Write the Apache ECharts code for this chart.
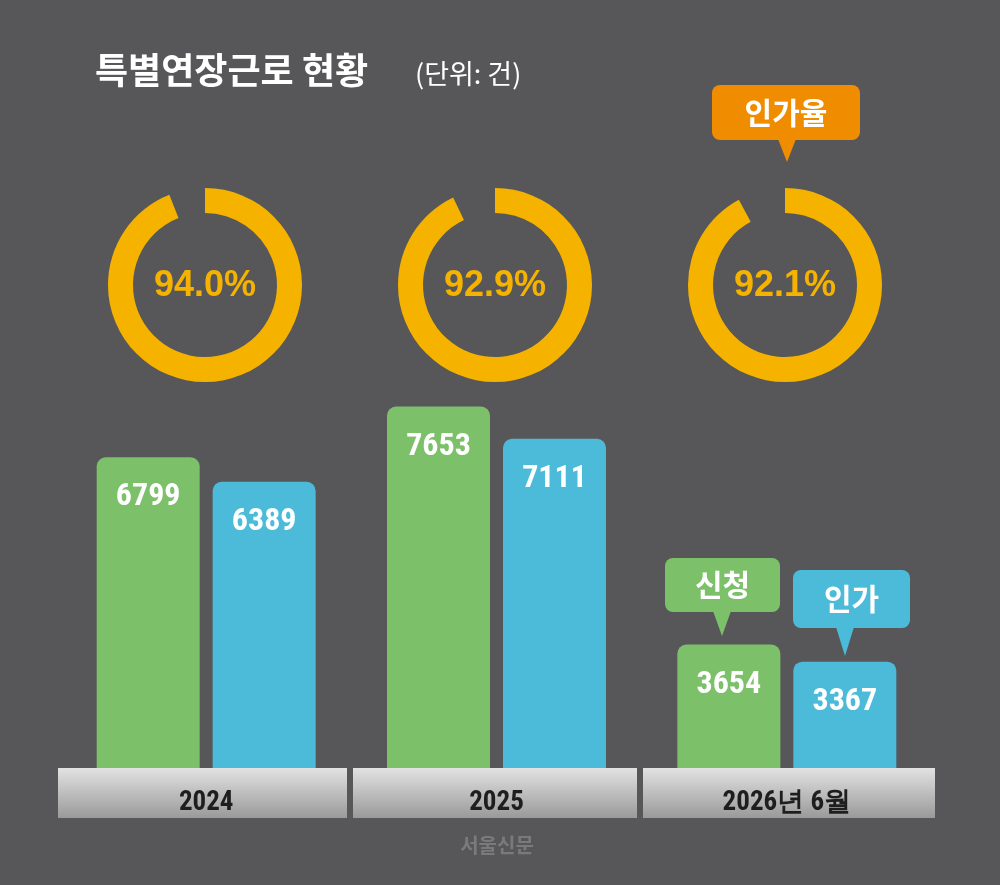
<!DOCTYPE html>
<html><head><meta charset="utf-8">
<script src="https://cdn.jsdelivr.net/npm/echarts@6/dist/echarts.min.js"></script>
<style>html,body{margin:0;padding:0;background:#575759}#c{width:1000px;height:885px}</style>
</head><body><div id="c"></div>
<script>
const categories = ['2024', '2025', '2026년 6월'];
const applied = [6799, 7653, 3654];
const approved = [6389, 7111, 3367];
const approvalRate = [94.0, 92.9, 92.1];
const rateLabels = ['94.0%', '92.9%', '92.1%'];

const chart = echarts.init(document.getElementById('c'));
const font = '"Liberation Sans Narrow","Roboto Condensed","Liberation Sans",sans-serif';
const kfont = '"Noto Sans CJK KR",sans-serif';
const centersX = [205, 495, 785];
const pies = approvalRate.map((v, i) => ({
  type: 'pie', center: [centersX[i], 285], radius: [72, 97], startAngle: 90, clockwise: true,
  silent: true, label: {show: false}, labelLine: {show: false},
  data: [{value: v, itemStyle: {color: '#f5b300'}}, {value: 100 - v, itemStyle: {color: 'rgba(0,0,0,0)'}}]
}));
const bandRects = [[58, 289], [353, 284], [643, 292]].map(([x, w]) => ({
  type: 'rect', shape: {x: x, y: 768, width: w, height: 50}, z: 0,
  style: {fill: new echarts.graphic.LinearGradient(0, 0, 0, 1, [{offset: 0, color: '#e2e2e2'}, {offset: 1, color: '#9a9a9a'}])}
}));
function bubble(x, y, w, h, px, py, color, text) {
  return [
    {type: 'rect', shape: {x: x, y: y, width: w, height: h, r: 8}, style: {fill: color}, z: 10},
    {type: 'polygon', shape: {points: [[px - 9, y + h - 1], [px + 9, y + h - 1], [px, py]]}, style: {fill: color}, z: 10},
    {type: 'text', x: x + w / 2, y: y + h / 2, z: 11, style: {text: text, fill: '#fff', font: 'bold 30px ' + kfont, align: 'center', verticalAlign: 'middle'}}
  ];
}
chart.setOption({
  backgroundColor: '#575759',
  animation: false,
  grid: {left: 61, right: 68, top: 318, bottom: 117},
  xAxis: {type: 'category', data: categories, axisLine: {show: false}, axisTick: {show: false},
    axisLabel: {color: '#1e1e1e', fontSize: 27, fontFamily: font, fontWeight: 'bold', margin: 22}},
  yAxis: {type: 'value', min: 1580, max: 9140, show: false, splitLine: {show: false}},
  series: [
    {type: 'bar', data: applied, barWidth: 103, barGap: '12.6%', z: 3,
      itemStyle: {color: '#7dc06a', borderRadius: [9, 9, 0, 0]},
      label: {show: true, position: 'insideTop', distance: 24, color: '#fff', fontSize: 32, fontFamily: font, fontWeight: 'bold'}},
    {type: 'bar', data: approved, barWidth: 103, z: 3,
      itemStyle: {color: '#4bbbd9', borderRadius: [9, 9, 0, 0]},
      label: {show: true, position: 'insideTop', distance: 24, color: '#fff', fontSize: 32, fontFamily: font, fontWeight: 'bold'}},
    ...pies
  ],
  graphic: [
    ...bandRects,
    {type: 'text', left: 95, top: 52, style: {text: '특별연장근로 현황', fill: '#fff', font: 'bold 36px ' + kfont}},
    {type: 'text', left: 415, top: 60, style: {text: '(단위: 건)', fill: '#fff', font: '27px ' + kfont}},
    ...rateLabels.map((t, i) => ({type: 'text', x: centersX[i], y: 286, z: 5,
      style: {text: t, fill: '#f5b300', font: 'bold 36px "Liberation Sans",sans-serif', align: 'center', verticalAlign: 'middle'}})),
    ...bubble(712, 85, 148, 55, 787, 162, '#f08c00', '인가율'),
    ...bubble(665, 558, 115, 54, 722, 636, '#7dc06a', '신청'),
    ...bubble(793, 570, 117, 58, 845, 656, '#4bbbd9', '인가'),
    {type: 'text', x: 497, y: 845, style: {text: '서울신문', fill: '#7a7a7a', font: 'bold 20px ' + kfont, align: 'center', verticalAlign: 'middle'}}
  ]
});
</script></body></html>
